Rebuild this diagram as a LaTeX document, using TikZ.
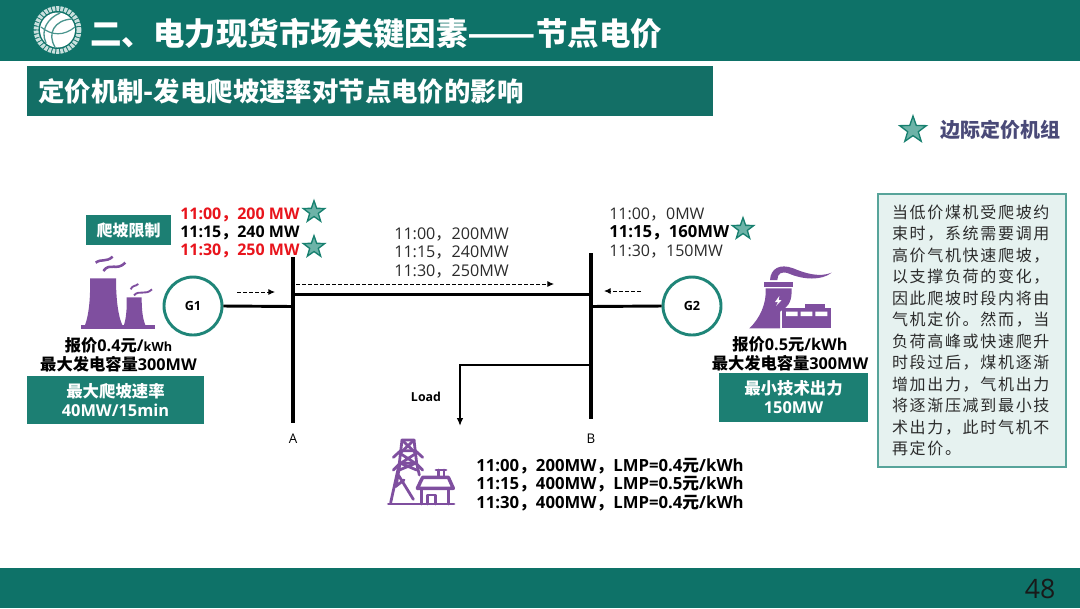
\documentclass[tikz,border=0pt]{standalone}
\usepackage{fontspec}
\usetikzlibrary{shapes.geometric,arrows.meta}
\setmainfont{Open Sans}
\newfontfamily\cjk{Noto Sans CJK SC}
\newfontfamily\cjkbox[LetterSpace=10.5]{Noto Sans CJK SC}
\newcommand{\zh}[1]{{\cjk #1}}
\definecolor{hdr}{HTML}{0E7268}
\definecolor{sub}{HTML}{136F66}
\definecolor{tealbox}{HTML}{1C7F73}
\definecolor{ring}{HTML}{1F8578}
\definecolor{iconp}{HTML}{7F4F9F}
\definecolor{starf}{HTML}{6DB3A8}
\definecolor{stard}{HTML}{17806F}
\definecolor{mred}{HTML}{E8141C}
\definecolor{txtg}{HTML}{2B2B2B}
\definecolor{legc}{HTML}{4A4A78}
\tikzset{
 mstar/.style={star,star points=5,star point ratio=2.5,fill=starf,draw=stard,line width=1pt,minimum size=#1,inner sep=0pt},
 gen/.style={circle,draw=ring,line width=2.2pt,minimum size=43.5pt,inner sep=0pt,font=\fontsize{9.5}{11}\selectfont\bfseries},
 bus/.style={line width=3pt,black},
 wire/.style={line width=2.2pt,black},
 flow/.style={dash pattern=on 3pt off 1.5pt,line width=.7pt,black,-{Latex[length=5pt,width=4.5pt]}},
 tbox/.style={fill=tealbox,text=white,inner sep=0pt,align=center,font=\fontsize{12.3}{14.2}\selectfont\bfseries},
 dat/.style={align=left,inner sep=0pt,anchor=west,font=\fontsize{12}{14}\selectfont},
 lab/.style={inner sep=0pt,align=center,font=\fontsize{12.2}{14.2}\selectfont\bfseries},
 sm/.style={inner sep=0pt,font=\fontsize{10}{11}\selectfont},
}
\begin{document}
\begin{tikzpicture}[x=0.75pt,y=-0.75pt]
\useasboundingbox (0,0) rectangle (1080,608);
% bands
\fill[hdr] (0,0) rectangle (1080,61);
\fill[hdr] (0,568) rectangle (1080,608);
\fill[sub] (27,66) rectangle (713,116);
% logo
\draw[white!78!hdr,line width=3.6pt,dash pattern=on 2.2pt off .8pt] (57.5,30) circle (21.5);
\fill[white] (57.5,30) circle (17.5);
\draw[hdr!75!white,line width=1pt] (46,43) .. controls (40,30) and (48,18) .. (60,13);
\draw[hdr!75!white,line width=1pt] (55,47) .. controls (47,34) and (54,20) .. (72,19);
\draw[hdr!75!white,line width=.9pt] (41,27) .. controls (52,36) and (64,36) .. (75,27);
\node[inner sep=0pt,anchor=west,text=white,font=\fontsize{23.6}{26}\selectfont\bfseries] (title) at (90,34) {\cjk 二、电力现货市场关键因素\scalebox{1.27}[1]{——}节点电价};
\node[inner sep=0pt,anchor=west,text=white,font=\fontsize{19.8}{24}\selectfont\bfseries] (subtitle) at (38,91) {\cjk 定价机制-发电爬坡速率对节点电价的影响};
% legend
\node[mstar=21pt] (legstar) at (913,130) {};
\node[inner sep=0pt,anchor=west,text=legc,font=\fontsize{15}{18}\selectfont\bfseries] (legtext) at (940,130) {\cjk 边际定价机组};
% note
\node[draw=ring!75!white,fill=ring!11!white,line width=1pt,minimum width=141pt,minimum height=204.75pt,inner sep=0pt,text=txtg] (note) at (972,330.5) {\begin{minipage}{120pt}\fontsize{12}{16.1}\selectfont\cjkbox
当低价煤机受爬坡约\\束时，系统需要调用\\高价气机快速爬坡，\\以支撑负荷的变化，\\因此爬坡时段内将由\\气机定价。然而，当\\负荷高峰或快速爬升\\时段过后，煤机逐渐\\增加出力，气机出力\\将逐渐压减到最小技\\术出力，此时气机不\\再定价。\end{minipage}};
% network
\coordinate (Atop) at (293,257); \coordinate (Abot) at (293,423);
\coordinate (Btop) at (591,253); \coordinate (Bbot) at (591,419);
\coordinate (Aline) at (293,294.5); \coordinate (Bline) at (591,294.5);
\coordinate (Ag) at (293,306.5); \coordinate (Bg) at (591,306.5);
\coordinate (Bload) at (591,365); \coordinate (Lcorner) at (460,365); \coordinate (Lend) at (460,426);
\node[gen] (G1) at (193,306) {G1};
\node[gen] (G2) at (692,306) {G2};
\draw[bus] (Atop) -- (Abot);
\draw[bus] (Btop) -- (Bbot);
\draw[wire] (Aline) -- (Bline);
\draw[wire] (G1.east) -- (Ag);
\draw[wire] (G2.west) -- (Bg);
\draw[line width=1.3pt,-{Latex[length=6pt,width=5pt]}] (Bload) -- (Lcorner) -- (Lend);
\coordinate (f1a) at (237,292); \coordinate (f1b) at (275,292);
\coordinate (f2a) at (296,284); \coordinate (f2b) at (554,284);
\coordinate (f3a) at (641,291); \coordinate (f3b) at (604,291);
\draw[flow] (f1a) -- (f1b);
\draw[flow] (f2a) -- (f2b);
\draw[flow] (f3a) -- (f3b);
\node[sm] (lA) at (293,439) {A};
\node[sm] (lB) at (591,439) {B};
\node[sm,font=\fontsize{9.3}{11}\selectfont\bfseries] (lLoad) at (426,397) {Load};
% G1 data
\node[dat,font=\fontsize{12}{13.5}\selectfont\bfseries] (g1d) at (180,232.5) {\textcolor{mred}{11:00\zh{，}200 MW}\\11:15\zh{，}240 MW\\\textcolor{mred}{11:30\zh{，}250 MW}};
\node[mstar=17pt] (s1) at (314,212) {};
\node[mstar=17pt] (s2) at (314,247) {};
\node[tbox,font=\fontsize{12}{14}\selectfont\bfseries,minimum width=63.75pt,minimum height=22.5pt] (ramp) at (128.5,230) {\zh{爬坡限制}};
\node[lab] (g1t) at (118.5,354.5) {\zh{报价}0.4\zh{元}/{\fontsize{9.5}{11}\selectfont kWh}\\\zh{最大发电容量}300MW};
\node[tbox,minimum width=132.75pt,minimum height=36pt] (g1b) at (115.5,400) {\zh{最大爬坡速率}\\40MW/15min};
% middle data
\node[dat,text=txtg,font=\fontsize{12.1}{13.9}\selectfont] (md) at (394,253) {11:00\zh{，}200MW\\11:15\zh{，}240MW\\11:30\zh{，}250MW};
% G2 data
\node[dat,text=txtg,font=\fontsize{12}{14.1}\selectfont] (g2d) at (609,233) {11:00\zh{，}0MW\\{\fontsize{12.5}{14.1}\selectfont\textbf{\textcolor{black}{11:15\zh{，}160MW}}}\\11:30\zh{，}150MW};
\node[mstar=17pt] (s3) at (743,229) {};
\node[lab] (g2t) at (790,353.5) {\zh{报价}0.5\zh{元}/kWh\\\zh{最大发电容量}300MW};
\node[tbox,minimum width=111.75pt,minimum height=36.75pt] (g2b) at (793.5,397.5) {\zh{最小技术出力}\\150MW};
% load data
\node[dat,font=\fontsize{12.55}{14.1}\selectfont\bfseries] (ld) at (476,484.5) {11:00\zh{，}200MW\zh{，}LMP=0.4\zh{元}/kWh\\11:15\zh{，}400MW\zh{，}LMP=0.5\zh{元}/kWh\\11:30\zh{，}400MW\zh{，}LMP=0.4\zh{元}/kWh};
\node[inner sep=0pt,text=black!90,font=\fontsize{20}{24}\selectfont] (pg) at (1040,589) {48};
% plant 1
\begin{scope}[shift={(20,190)},x=.25pt,y=-.25pt,iconp]
\fill (182,405) rectangle (405,417);
\fill (210,265) -- (288,265) .. controls (288,330) and (295,380) .. (307,405) -- (195,405) .. controls (205,380) and (212,330) .. (210,265) -- cycle;
\fill (320,322) -- (365,322) .. controls (365,360) and (368,385) .. (376,405) -- (312,405) .. controls (318,385) and (321,360) .. (320,322) -- cycle;
\draw[line width=1.9pt] (227,218) .. controls (245,205) and (258,218) .. (278,200);
\draw[line width=1.9pt] (250,243) .. controls (270,215) and (290,245) .. (316,218);
\draw[line width=1.4pt] (332,298) .. controls (338,285) and (345,290) .. (355,282);
\draw[line width=1.4pt] (342,316) .. controls (358,298) and (375,318) .. (396,298);
\end{scope}
% plant 2
\begin{scope}[shift={(580,190)},x=.25pt,y=-.25pt,iconp]
\fill (570,270) .. controls (572,235) and (600,220) .. (640,235) .. controls (680,252) and (720,262) .. (755,248) .. controls (725,272) and (670,270) .. (625,250) .. controls (605,243) and (592,250) .. (592,270) -- cycle;
\fill (553,277) rectangle (638,290);
\fill (557,295) -- (635,295) .. controls (635,330) and (632,345) .. (600,365) -- (600,415) -- (508,415) .. controls (540,385) and (560,340) .. (557,295) -- cycle;
\fill (605,355) rectangle (752,415);
\fill (675,343) rectangle (735,356);
\fill[white] (618,365) rectangle (653,378) (662,365) rectangle (697,378) (706,365) rectangle (742,378);
\fill[white] (598,318) -- (585,336) -- (594,336) -- (588,348) -- (605,330) -- (596,330) -- cycle;
\end{scope}
% tower icon
\begin{scope}[shift={(380,430)},x=.25pt,y=-.25pt,iconp,line width=2.1pt,line join=round,line cap=round]
\draw (65,30) -- (103,30) (66,30) -- (58,100) -- (32,218) (102,30) -- (110,100) -- (118,135);
\draw (66,30) -- (108,70) -- (62,100) -- (110,120) (102,30) -- (60,70) -- (106,100) -- (58,120);
\draw (40,82) -- (62,62) -- (106,62) -- (128,82);
\draw (40,120) -- (60,100) -- (108,100) -- (128,120);
\draw (52,130) -- (100,208) (46,170) -- (72,150) (60,100) -- (48,170);
\draw (25,222) -- (222,222);
\draw[line width=2.6pt] (112,175) -- (128,142) -- (205,142) -- (220,175) -- cycle;
\draw (125,175) -- (125,222) (206,175) -- (206,222);
\draw (142,222) -- (142,195) -- (167,195) -- (167,222);
\draw (176,138) -- (176,120) (192,138) -- (192,120) (168,120) -- (198,120);
\end{scope}
\end{tikzpicture}
\end{document}
